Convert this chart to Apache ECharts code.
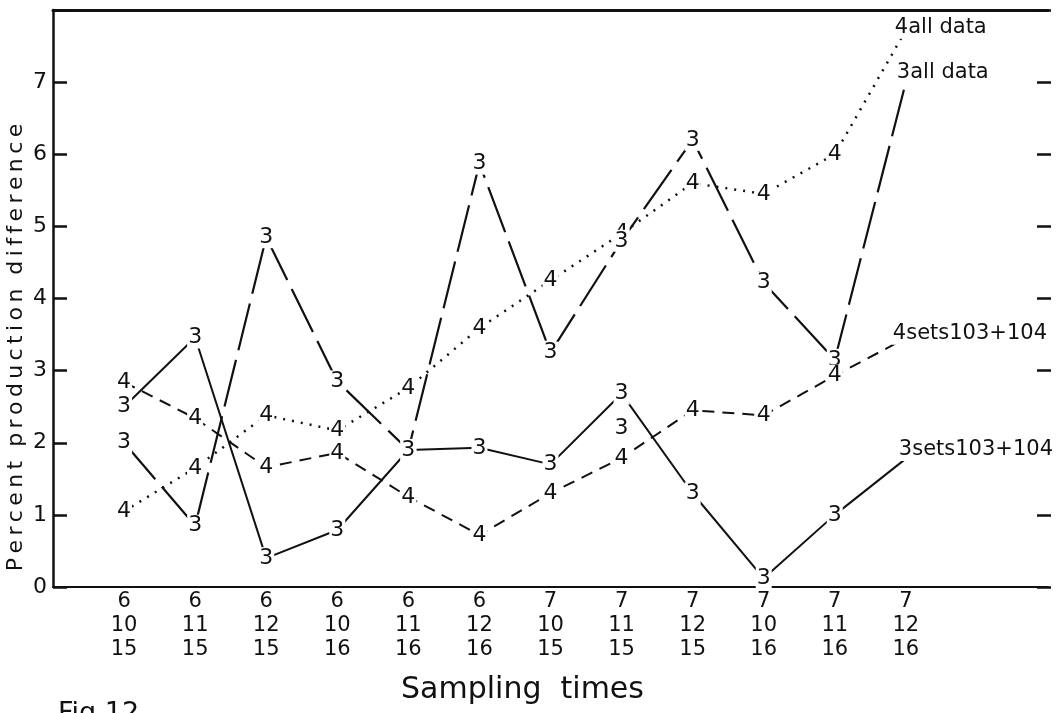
<!DOCTYPE html>
<html>
<head>
<meta charset="utf-8">
<script src="https://cdn.jsdelivr.net/npm/echarts@6/dist/echarts.min.js"></script>
<style>
  html, body { margin: 0; padding: 0; background: #fff; }
  #main { width: 1059px; height: 713px; }
</style>
</head>
<body>
<div id="main"></div>
<script>
// sampling times (month / hour / day)
var samplingTimes = ['6\n10\n15', '6\n11\n15', '6\n12\n15', '6\n10\n16', '6\n11\n16', '6\n12\n16',
                     '7\n10\n15', '7\n11\n15', '7\n12\n15', '7\n10\n16', '7\n11\n16', '7\n12\n16'];
var yTicks = ['0', '1', '2', '3', '4', '5', '6', '7'];

// percent production difference
var all4 = [1.05, 1.65, 2.38, 2.17, 2.76, 3.59, 4.25, 4.9, 5.6, 5.45, 6.0, 7.72];
var all3 = [2.0, 0.85, 4.85, 2.85, 1.9, 5.87, 3.25, 4.8, 6.2, 4.22, 3.15, 7.0];
var sets4 = [2.84, 2.34, 1.66, 1.86, 1.25, 0.72, 1.3, 1.79, 2.45, 2.38, 2.93, 3.45];
var sets3 = [2.5, 3.46, 0.4, 0.79, 1.9, 1.93, 1.7, 2.68, 1.3, 0.12, 1.0, 1.78];
// a loose "3" written beside the 7/11/15 column
var strayMark = [[7, 2.2]];

var ink = '#111';
var font = 'DejaVu Sans';
var clear = 'rgba(0,0,0,0)';
var thin = '\u2009';

// hand lettering is widely spaced
function spaced(s) {
    return s.split(' ').map(function (w) { return w.split('').join(thin); }).join('  ');
}

function buildData(values) {
    var last = values.length - 1;
    return values.map(function (v, i) {
        if (i === last) return { value: [i, v], label: { show: false } };
        return [i, v];
    });
}

function lineSeries(name, values, digit, dash, width, endText, endOffset) {
    return {
        name: name,
        type: 'line',
        data: buildData(values),
        symbol: 'circle',
        symbolSize: 2,
        showSymbol: true,
        itemStyle: { color: clear, borderColor: clear, borderWidth: 0 },
        z: 2,
        lineStyle: { color: ink, width: width, type: dash },
        label: {
            show: true, position: 'inside', formatter: digit,
            fontSize: 22, color: ink, fontFamily: font,
            backgroundColor: '#fff', padding: [0, 1]
        },
        endLabel: {
            show: true, distance: 0, offset: endOffset, formatter: endText,
            fontSize: 21, color: ink, fontFamily: font,
            backgroundColor: '#fff', padding: [1, 1]
        },
        labelLayout: { hideOverlap: false },
        emphasis: { disabled: true }
    };
}

var chart = echarts.init(document.getElementById('main'));

var option = {
    backgroundColor: '#fff',
    animation: false,
    title: {
        text: 'Fig.12', left: 53, top: 695,
        textStyle: { fontSize: 27, fontWeight: 'normal', color: ink, fontFamily: font }
    },
    grid: { left: 53, right: 11, top: 10, bottom: 126, outerBoundsMode: 'none' },
    xAxis: [{
        type: 'value', min: -1, max: 13, interval: 1,
        name: 'Sampling  times', nameLocation: 'middle', nameGap: 88,
        nameTextStyle: { fontSize: 30, color: ink, fontFamily: font, padding: [0, 56, 0, 0] },
        axisLine: { onZero: false, lineStyle: { color: ink, width: 2 } },
        axisTick: { show: false },
        splitLine: { show: false },
        axisLabel: {
            formatter: function (v) { return samplingTimes[v] || ''; },
            fontSize: 21, lineHeight: 24, color: ink, fontFamily: font, margin: 3
        }
    }, {
        type: 'value', min: -1, max: 13, position: 'top',
        axisLine: { onZero: false, lineStyle: { color: ink, width: 3 } },
        axisTick: { show: false }, axisLabel: { show: false }, splitLine: { show: false }
    }],
    yAxis: [{
        type: 'value', min: 0, max: 8, interval: 1,
        name: spaced('Percent production difference'), nameLocation: 'middle', nameGap: 26,
        nameMoveOverlap: false,
        nameTextStyle: { fontSize: 22, color: ink, fontFamily: font, padding: [0, 98, 0, 0] },
        axisLine: { show: true, onZero: false, lineStyle: { color: ink, width: 2.5 } },
        axisTick: { show: true, inside: true, length: 14, lineStyle: { color: ink, width: 2.5 } },
        splitLine: { show: false },
        axisLabel: {
            formatter: function (v) { return yTicks[v] || ''; },
            fontSize: 22, color: ink, fontFamily: font, margin: 6
        }
    }, {
        type: 'value', min: 0, max: 8, interval: 1, position: 'right', offset: 3,
        axisLine: { show: false, onZero: false },
        axisTick: { show: true, inside: true, length: 14, lineStyle: { color: ink, width: 2.5 } },
        axisLabel: { show: false }, splitLine: { show: false }
    }],
    series: [
        lineSeries('4 all data', all4, '4', [2, 7], 2.5, '4all data', [-12, -3]),
        lineSeries('3 all data', all3, '3', [48, 10], 2.2, '3all data', [-10, -10]),
        lineSeries('4 sets 103+104', sets4, '4', [12, 8], 2, '4sets103+104', [-14, -5]),
        lineSeries('3 sets 103+104', sets3, '3', 'solid', 2, '3sets103+104', [-8, -9]),
        {
            name: 'stray', type: 'line', data: strayMark, symbol: 'circle', symbolSize: 2,
            showSymbol: true,
            lineStyle: { opacity: 0 },
            itemStyle: { color: clear, borderColor: clear, borderWidth: 0 },
            label: { show: true, position: 'inside', formatter: '3', fontSize: 22, color: ink, fontFamily: font },
            emphasis: { disabled: true }
        }
    ]
};

chart.setOption(option);
</script>
</body>
</html>
